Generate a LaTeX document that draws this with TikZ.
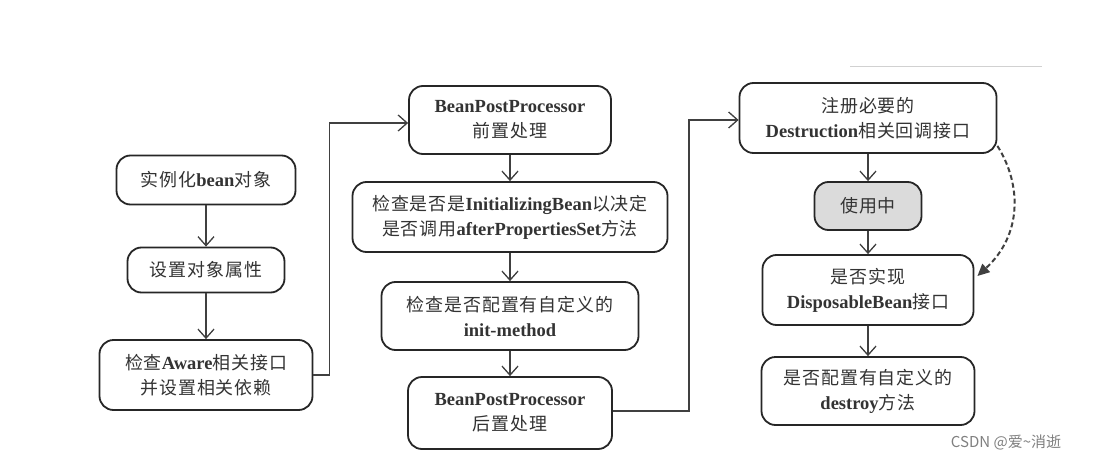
\documentclass[tikz,border=0pt]{standalone}
\usepackage{fontspec}
\setmainfont{Liberation Serif}
\newfontfamily\cjk{Noto Sans CJK SC}[Scale=0.97,LetterSpace=5]
\newfontfamily\wmfont{Noto Sans CJK SC}
\newcommand\zh[1]{{\cjk\mdseries #1}}
\usetikzlibrary{arrows.meta}
\definecolor{boxline}{HTML}{262626}
\definecolor{txt}{HTML}{333333}
\definecolor{arr}{HTML}{404040}
\begin{document}
\begin{tikzpicture}[x=1pt,y=-1pt,
  box/.style={draw=boxline,line width=1.8pt,rounded corners=14pt,align=center,inner sep=0pt,text=txt,
    font=\fontsize{18.5}{25}\selectfont\bfseries},
  flow/.style={draw=arr,line width=1.3pt,-{Straight Barb[length=9pt,width=16pt]}},
  dashflow/.style={draw=arr,line width=2pt,dash pattern=on 5pt off 3pt,-{Triangle[length=12pt,width=11pt]}}]
\useasboundingbox (0,0) rectangle (1093,463);
\fill[white] (0,0) rectangle (1093,463);
% column 1
\node[box,minimum width=179pt,minimum height=49pt] (n1) at (206,180) {\zh{实例化}bean\zh{对象}};
\node[box,minimum width=157pt,minimum height=45pt] (n2) at (206,270) {\zh{设置对象属性}};
\node[box,minimum width=213pt,minimum height=70pt] (n3) at (206,375) {\zh{检查}Aware\zh{相关接口}\\\zh{并设置相关依赖}};
% column 2
\node[box,minimum width=202pt,minimum height=68pt] (n4) at (510,120) {BeanPostProcessor\\\zh{前置处理}};
\node[box,minimum width=315pt,minimum height=70pt] (n5) at (510,217) {\zh{检查是否是}InitializingBean\zh{以决定}\\\zh{是否调用}afterPropertiesSet\zh{方法}};
\node[box,minimum width=257pt,minimum height=68pt] (n6) at (510,316) {\zh{检查是否配置有自定义的}\\init-method};
\node[box,minimum width=204pt,minimum height=72pt] (n7) at (510,413) {BeanPostProcessor\\\zh{后置处理}};
% column 3
\node[box,minimum width=257pt,minimum height=70pt] (n8) at (868,118) {\zh{注册必要的}\\Destruction\zh{相关回调接口}};
\node[box,fill=black!14,minimum width=107pt,minimum height=48pt] (n9) at (868,206) {\zh{使用中}};
\node[box,minimum width=211pt,minimum height=70pt] (n10) at (868,290) {\zh{是否实现}\\DisposableBean\zh{接口}};
\node[box,minimum width=213pt,minimum height=68pt] (n11) at (868,391) {\zh{是否配置有自定义的}\\destroy\zh{方法}};
% connectors
\draw[flow] (n1) -- (n2);
\draw[flow] (n2) -- (n3);
\draw[flow] (n3.east) -- ++(16,0) |- ([yshift=-3pt]n4.west);
\draw[flow] (n4) -- (n5);
\draw[flow] (n5) -- (n6);
\draw[flow] (n6) -- (n7);
\draw[flow] ([yshift=2pt]n7.east) -- ++(76,0) |- ([yshift=-2pt]n8.west);
\draw[flow] (n8) -- (n9);
\draw[flow] (n9) -- (n10);
\draw[flow] (n10) -- (n11);
\draw[dashflow] ([yshift=8pt]n8.south east) .. controls (1022,185) and (1022,235) .. ([xshift=3pt,yshift=14pt]n10.east);
% decorations
\draw[black!18,line width=1pt] (850,66) -- (1042,66);
\node[text=black!50,font=\wmfont\fontsize{15}{15}\selectfont,inner sep=0pt] (wm) at (1006,442) {CSDN @爱\textasciitilde 消逝};
\end{tikzpicture}
\end{document}
